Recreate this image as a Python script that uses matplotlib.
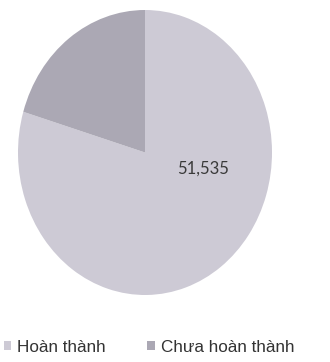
import matplotlib
matplotlib.use("Agg")
import matplotlib.pyplot as plt
from matplotlib.patches import Patch

categories = ["Hoàn thành", "Chưa hoàn thành"]
values = [51535, 13200]
shown_labels = ["51,535", ""]
colors = ["#cdcad5", "#aba8b4"]

fig = plt.figure(figsize=(3.3, 3.62), dpi=100)
ax = fig.add_axes([18/330, 67/362, 254/330, 285/362])
wedges, _ = ax.pie(values, colors=colors, startangle=90, counterclock=False,
                   radius=1.0, wedgeprops=dict(linewidth=0))
ax.set_aspect('auto')
ax.set_xlim(-1, 1)
ax.set_ylim(-1, 1)
ax.axis('off')

ax.text(0.46, -0.11, shown_labels[0], ha='center', va='center',
        fontsize=12, color='#3a3a3a', family=['Lato', 'DejaVu Sans'])

handles = [Patch(facecolor=c, edgecolor='none') for c in colors]
fig.legend(handles, categories, loc='center', bbox_to_anchor=(149/330, 1 - 347/362),
           ncol=2, frameon=False, handlelength=0.45, handleheight=0.45,
           handletextpad=0.35, columnspacing=2.4,
           prop={'family': ['Liberation Sans', 'DejaVu Sans'], 'size': 12.3},
           labelcolor='#333333')

fig.savefig("out.png", dpi=100, facecolor='white')
